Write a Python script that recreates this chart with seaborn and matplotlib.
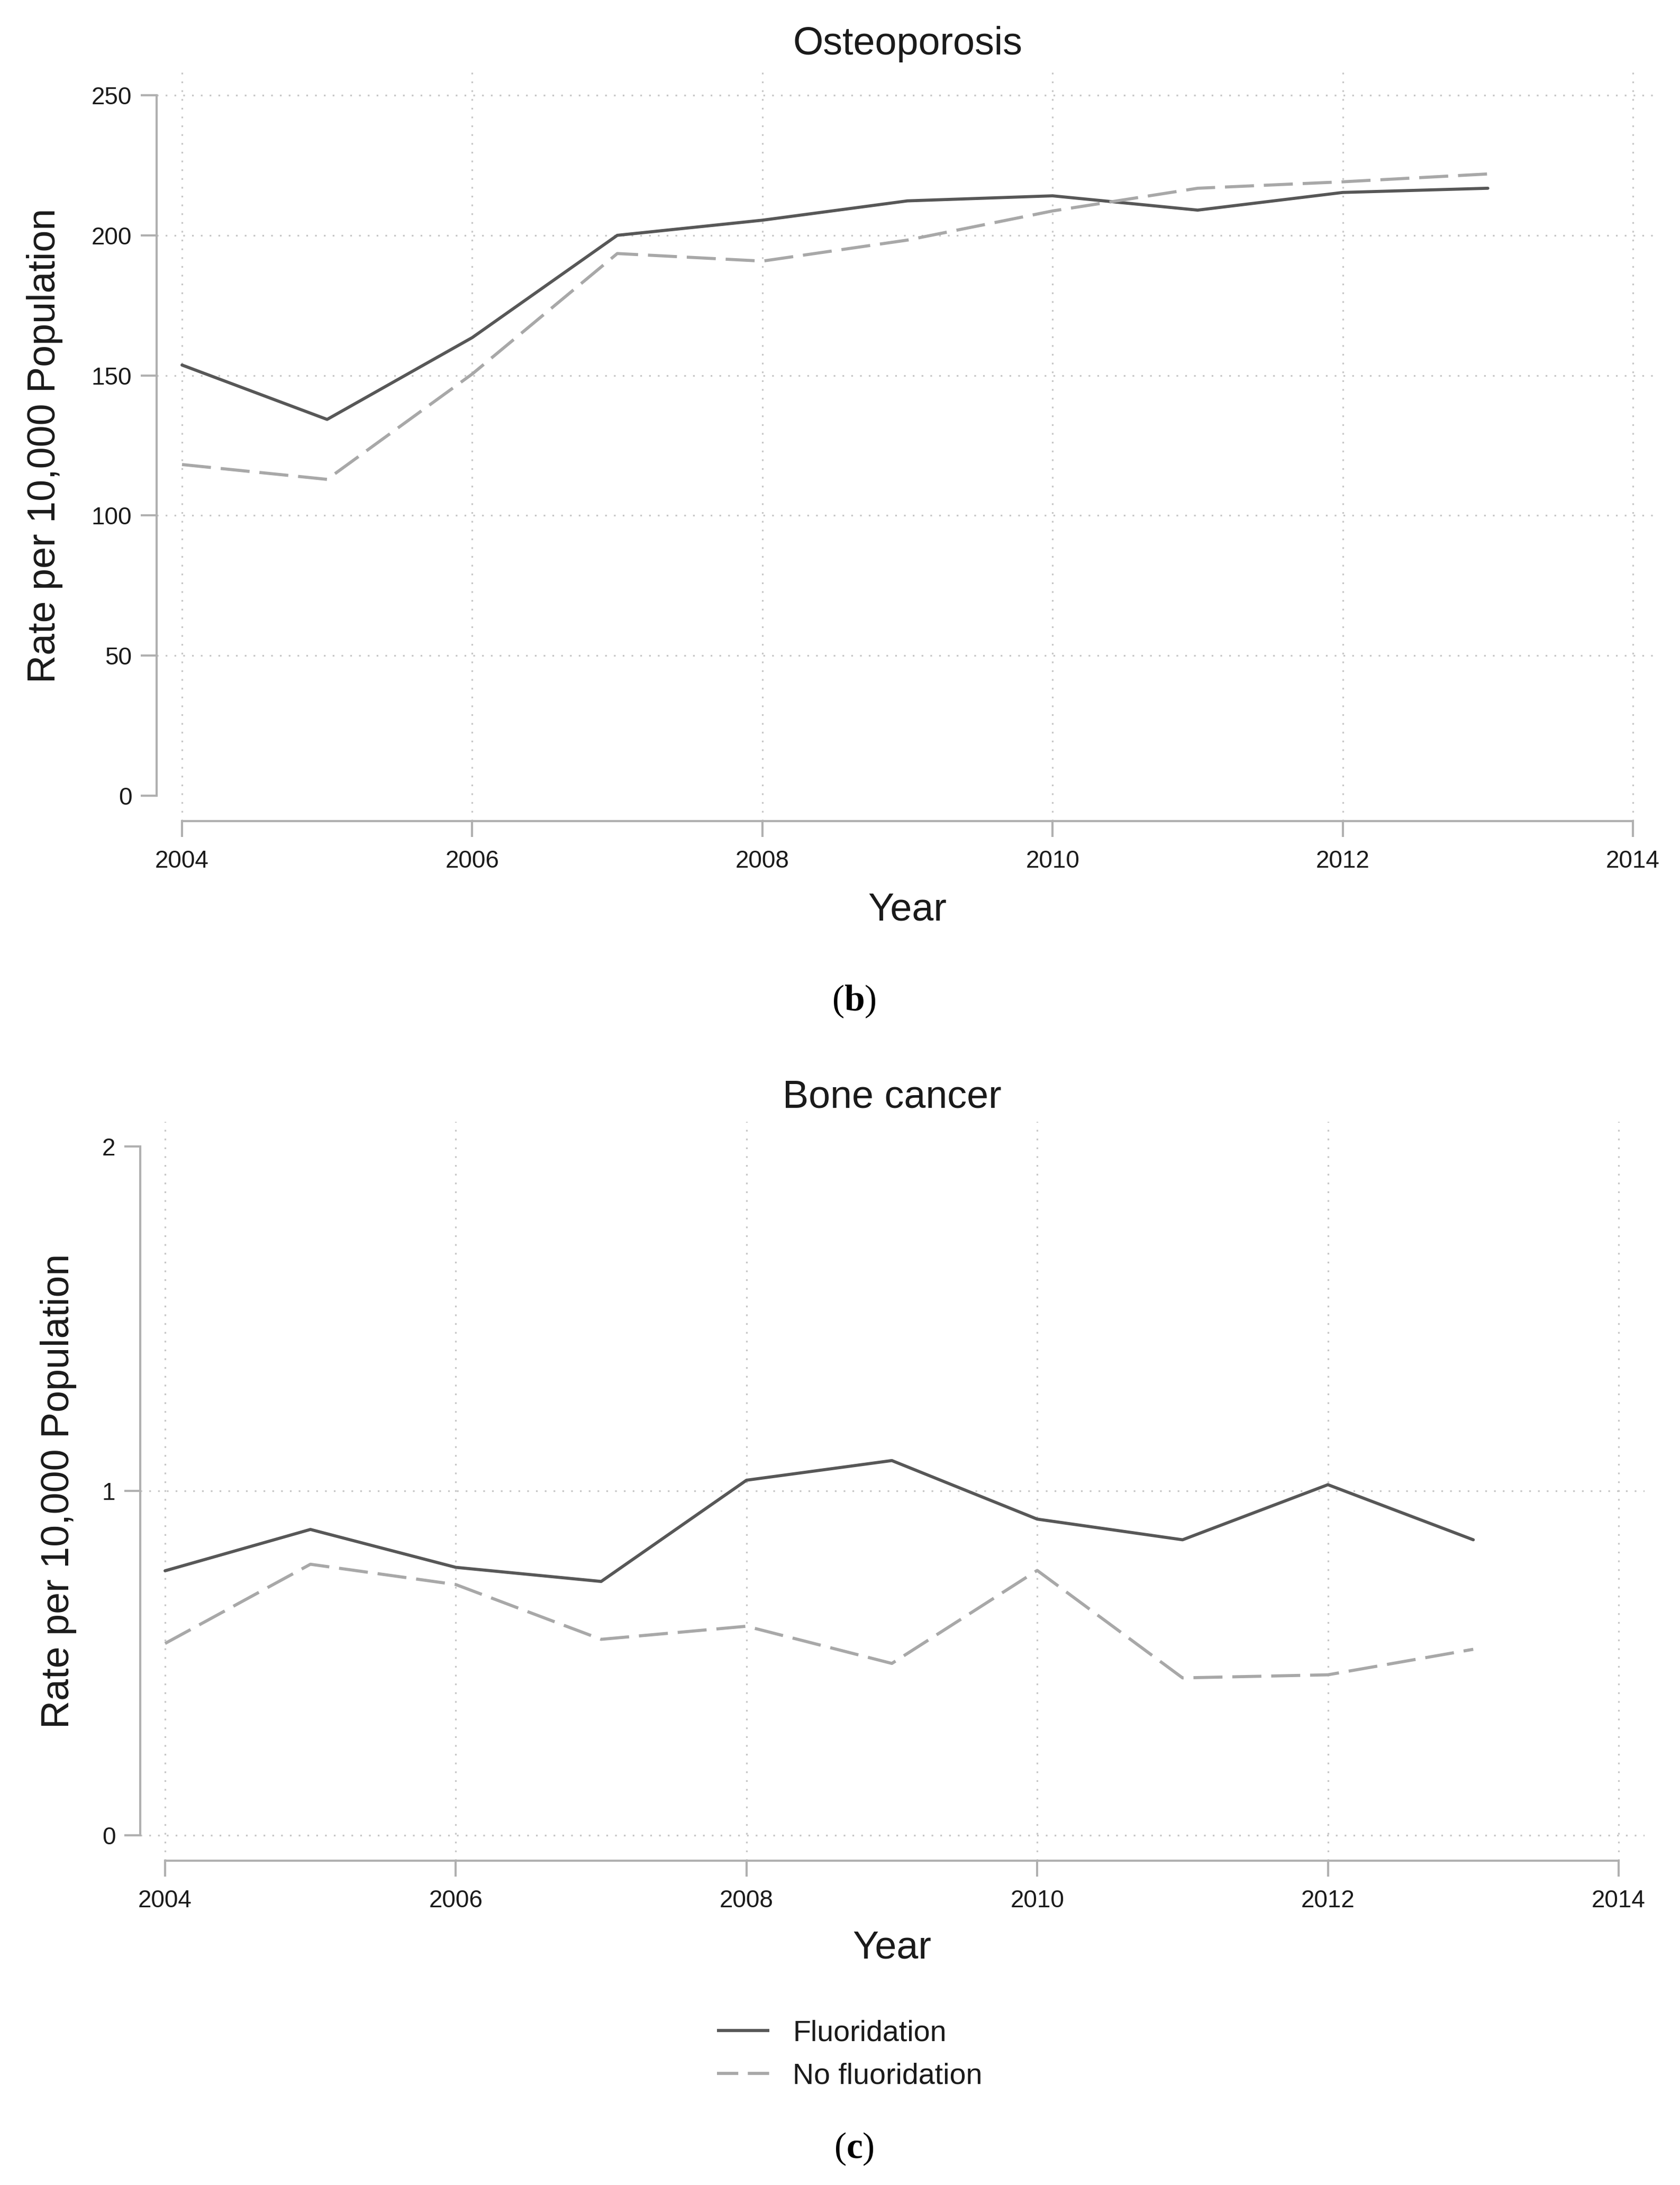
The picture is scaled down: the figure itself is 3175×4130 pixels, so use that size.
import numpy as np
import pandas as pd
import matplotlib
matplotlib.use("Agg")
import matplotlib.pyplot as plt
from matplotlib.lines import Line2D
import seaborn as sns

# ---------------- data ----------------
years = [2004, 2005, 2006, 2007, 2008, 2009, 2010, 2011, 2012, 2013]
groups = ["Fluoridation", "No fluoridation"]

osteo_fluor = [153.7, 134.3, 163.5, 200.0, 205.4, 212.3, 214.1, 209.0, 215.3, 216.8]
osteo_nofluor = [118.2, 112.9, 150.5, 193.5, 190.8, 198.3, 208.7, 216.8, 219.1, 221.9]

bone_fluor = [0.768, 0.888, 0.778, 0.737, 1.031, 1.088, 0.918, 0.858, 1.018, 0.858]
bone_nofluor = [0.557, 0.787, 0.728, 0.569, 0.607, 0.499, 0.769, 0.457, 0.466, 0.540]

x_ticks = [2004, 2006, 2008, 2010, 2012, 2014]
osteo_yticks = [0, 50, 100, 150, 200, 250]
bone_yticks = [0, 1, 2]

titles = ["Osteoporosis", "Bone cancer"]
ylabel = "Rate per 10,000 Population"
xlabel = "Year"
panel_tags = ["b", "c"]


def long_df(a, b):
    return pd.DataFrame({
        "Year": years * 2,
        "Rate": list(a) + list(b),
        "Group": [groups[0]] * len(years) + [groups[1]] * len(years),
    })


osteo_df = long_df(osteo_fluor, osteo_nofluor)
bone_df = long_df(bone_fluor, bone_nofluor)

# ---------------- style ----------------
sns.set_style("white")
plt.rcParams["font.family"] = ["Liberation Sans", "DejaVu Sans"]
plt.rcParams["mathtext.fontset"] = "custom"
plt.rcParams["mathtext.rm"] = "Liberation Serif"
plt.rcParams["mathtext.bf"] = "Liberation Serif:bold"

W, H = 3175, 4130
DPI = 100
fig = plt.figure(figsize=(W / DPI, H / DPI), dpi=DPI)
fig.patch.set_facecolor("white")

SOLID = "#575757"
DASHC = "#a8a8a8"
SPINE = "#b0b0b0"
GRID = "#c6c6c6"
TXT = "#1a1a1a"
LW = 4.2
palette = {groups[0]: SOLID, groups[1]: DASHC}
dash_map = {groups[0]: "", groups[1]: (9.4, 3.2)}


def rect(l, t, r, b):
    return [l / W, 1 - b / H, (r - l) / W, (b - t) / H]


def setup(ax, df, yticks, hide_grid_idx, x_px, y_px, box):
    # x_px: (px of 2004, px of 2014); y_px: (px of lowest tick, px of highest tick)
    l, t, r, b = box
    sns.lineplot(data=df, x="Year", y="Rate", hue="Group", style="Group",
                 palette=palette, dashes=dash_map, linewidth=LW,
                 legend=False, ax=ax, estimator=None)
    ppx = (x_px[1] - x_px[0]) / (x_ticks[-1] - x_ticks[0])
    ax.set_xlim(x_ticks[0] - (x_px[0] - l) / ppx, x_ticks[-1] + (r - x_px[1]) / ppx)
    ppy = (y_px[0] - y_px[1]) / (yticks[-1] - yticks[0])
    ax.set_ylim(yticks[0] - (b - y_px[0]) / ppy, yticks[-1] + (y_px[1] - t) / ppy)
    ax.set_xticks(x_ticks)
    ax.set_yticks(yticks)
    ax.set_xticklabels([str(v) for v in x_ticks])
    ax.set_yticklabels([str(v) for v in yticks])
    ax.set_xlabel("")
    ax.set_ylabel("")
    for s in ["top", "right"]:
        ax.spines[s].set_visible(False)
    for s in ["left", "bottom"]:
        ax.spines[s].set_color(SPINE)
        ax.spines[s].set_linewidth(2.9)
    ax.spines["left"].set_bounds(yticks[0], yticks[-1])
    ax.spines["bottom"].set_bounds(x_ticks[0], x_ticks[-1])
    ax.tick_params(axis="both", which="major", direction="out", length=21.6,
                   width=2.9, color=SPINE, labelcolor=TXT, labelsize=33,
                   bottom=True, left=True, top=False, right=False)
    ax.tick_params(axis="y", pad=12)
    ax.tick_params(axis="x", pad=17)
    ax.grid(True, color=GRID, linestyle=(0, (1, 4.2)), linewidth=2.3)
    ax.set_axisbelow(True)
    ax.yaxis.get_major_ticks()[hide_grid_idx].gridline.set_visible(False)
    ax.set_facecolor("white")


# top panel
box1 = (296, 132, 3130, 1552)
ax1 = fig.add_axes(rect(*box1))
setup(ax1, osteo_df, osteo_yticks, 0, (344, 3086), (1504, 180), box1)

# bottom panel
box2 = (265, 2120, 3108, 3517)
ax2 = fig.add_axes(rect(*box2))
setup(ax2, bone_df, bone_yticks, -1, (312, 3059), (3469, 2167), box2)


def ftext(xp, yp, s, **kw):
    fig.text(xp / W, 1 - yp / H, s, **kw)


# titles
ftext(1715, 103, titles[0], ha="center", va="baseline", fontsize=53, color=TXT)
ftext(1685.5, 2093, titles[1], ha="center", va="baseline", fontsize=53, color=TXT)
# x labels
ftext(1715, 1739, xlabel, ha="center", va="baseline", fontsize=53, color=TXT)
ftext(1685.5, 3702, xlabel, ha="center", va="baseline", fontsize=53, color=TXT)
# y labels
ftext(85, 842, ylabel, ha="center", va="center", rotation=90, fontsize=53, color=TXT)
ftext(111, 2818, ylabel, ha="center", va="center", rotation=90, fontsize=53, color=TXT)
# panel tags
ftext(1614, 1910, r"$(\mathbf{%s})$" % panel_tags[0], ha="center", va="baseline",
      fontsize=50, color="black")
ftext(1614, 4079, r"$(\mathbf{%s})$" % panel_tags[1], ha="center", va="baseline",
      fontsize=50, color="black")

# legend
handles = [
    Line2D([0], [0], color=SOLID, lw=LW, solid_capstyle="butt"),
    Line2D([0], [0], color=DASHC, lw=LW, dashes=(6.9, 3.1), dash_capstyle="butt"),
]
fig.legend(handles, groups, loc="center left",
           bbox_to_anchor=(1355 / W, 1 - 3884 / H), frameon=False,
           fontsize=40, handlelength=1.79, handletextpad=0.79,
           labelspacing=0.52, borderpad=0, borderaxespad=0,
           labelcolor=TXT)

fig.savefig("out.png", dpi=DPI, facecolor="white")
